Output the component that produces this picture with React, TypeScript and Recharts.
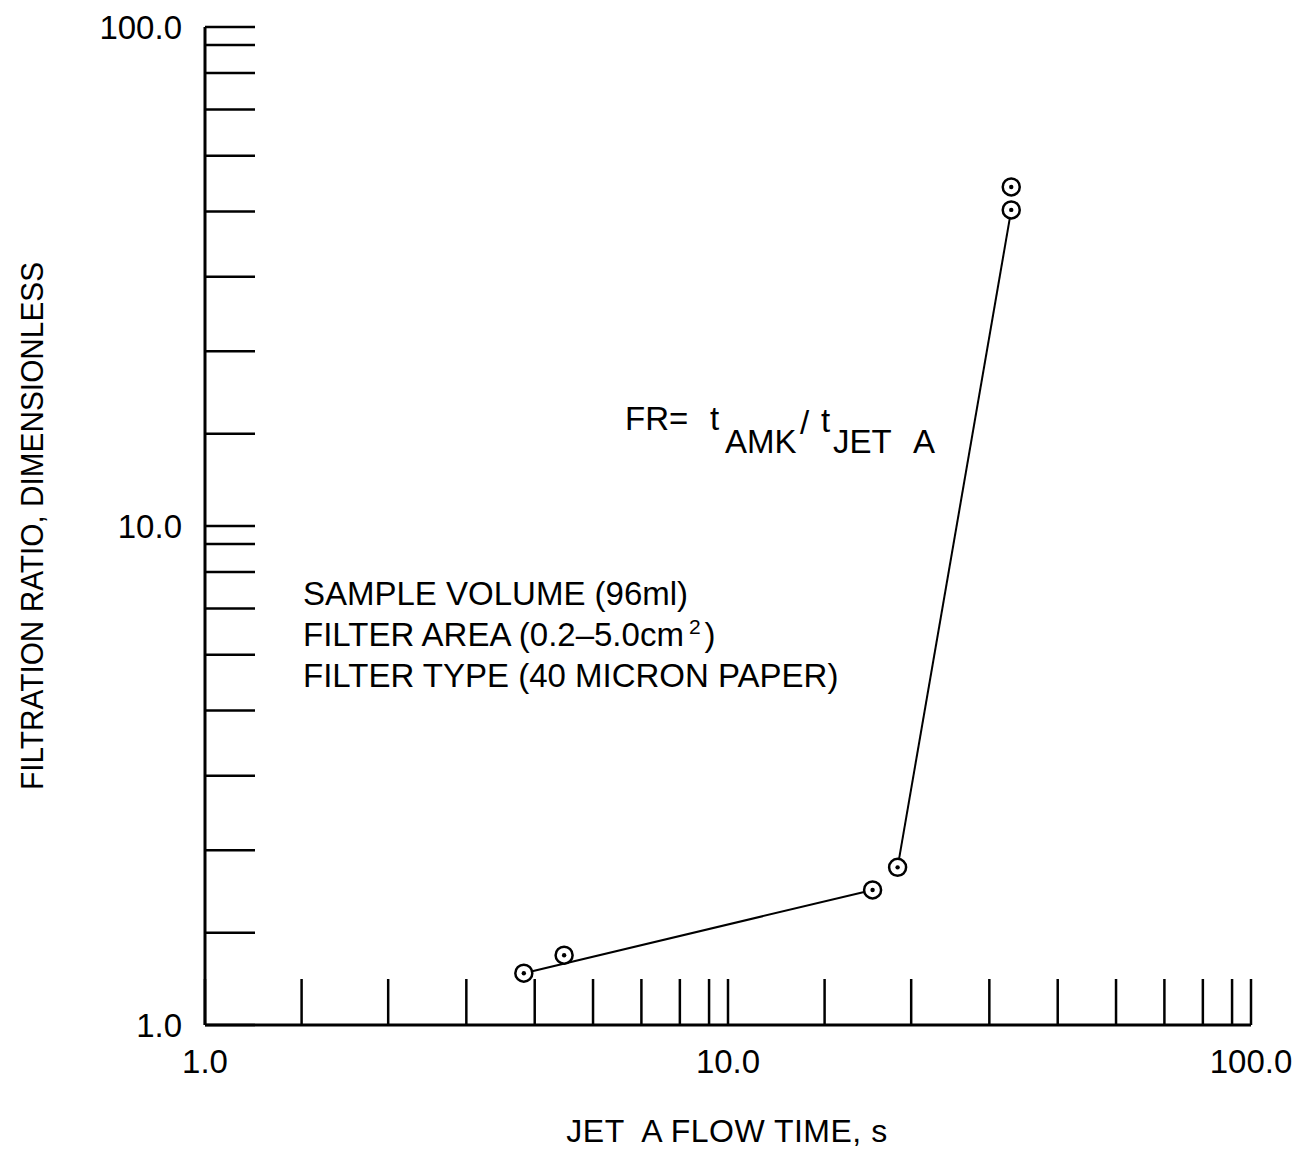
import { ScatterChart, Scatter, XAxis, YAxis } from 'recharts'

// measured points: jet A flow time (s) vs filtration ratio
const flowTime = [4.07, 4.86, 18.9, 21.1, 34.8, 34.8]
const filtrationRatio = [1.27, 1.38, 1.865, 2.07, 43.0, 47.8]

// fitted segments, by point index
const lowerFitIdx = [0, 2]
const upperFitIdx = [3, 4]

// plotter tick marks (same spacing in every decade)
const xTicks = [1, 1.53, 2.24, 3.16, 4.27, 5.52, 6.83, 8.09, 9.2, 10, 15.3, 22.4, 31.6, 42.7, 55.2, 68.3, 80.9, 92, 100]
const yTicks = [1, 1.53, 2.24, 3.16, 4.27, 5.52, 6.83, 8.09, 9.2, 10, 15.3, 22.4, 31.6, 42.7, 55.2, 68.3, 80.9, 92, 100]
const tickLabels: Record<number, string> = { 1: '1.0', 10: '10.0', 100: '100.0' }

const xTitle = 'JET  A FLOW TIME, s'
const yTitle = 'FILTRATION RATIO, DIMENSIONLESS'
const noteLines = ['SAMPLE VOLUME (96ml)', 'FILTER AREA (0.2\u20135.0cm', 'FILTER TYPE (40 MICRON PAPER)']

const points = flowTime.map((x, i) => ({ x, y: filtrationRatio[i] }))
const lowerFit = lowerFitIdx.map((i) => points[i])
const upperFit = upperFitIdx.map((i) => points[i])

const W = 1297
const H = 1140
const AXIS_W = 60
const AXIS_H = 60
const font = '"Liberation Sans", Arial, Helvetica, sans-serif'

// tick marks point into the plot; labels only on whole decades
function YTick(props: any) {
  const { x, y, payload } = props
  const label = tickLabels[payload.value]
  return (
    <g>
      <line x1={x} y1={y} x2={x + 50} y2={y} stroke="#000" strokeWidth={2.5} />
      {label && (
        <text x={x - 23} y={y + 12} textAnchor="end" fontSize={33} fontFamily={font} fill="#000">
          {label}
        </text>
      )}
    </g>
  )
}

function XTick(props: any) {
  const { x, y, payload } = props
  const label = tickLabels[payload.value]
  return (
    <g>
      <line x1={x} y1={y} x2={x} y2={y - 46} stroke="#000" strokeWidth={2.5} />
      {label && (
        <text x={x} y={y + 48} textAnchor="middle" fontSize={33} fontFamily={font} fill="#000">
          {label}
        </text>
      )}
    </g>
  )
}

function Ring(props: any) {
  const { cx, cy } = props
  return (
    <g>
      <circle cx={cx} cy={cy} r={8.5} fill="#fff" stroke="#000" strokeWidth={2.5} />
      <circle cx={cx} cy={cy} r={2.2} fill="#000" />
    </g>
  )
}

const NoShape = () => <g />

export default function App() {
  return (
    <div style={{ position: 'relative', width: W, height: H, background: '#fff' }}>
      <ScatterChart
        width={W}
        height={H}
        margin={{ top: 19, right: 54, bottom: 123 - AXIS_H, left: 197 - AXIS_W }}
      >
        <XAxis
          type="number"
          dataKey="x"
          scale="log"
          domain={[1, 100]}
          ticks={xTicks}
          interval={0}
          height={AXIS_H}
          tickSize={0}
          tickMargin={0}
          tickLine={false}
          axisLine={{ stroke: '#000', strokeWidth: 3 }}
          tick={<XTick />}
          allowDataOverflow
        />
        <YAxis
          type="number"
          dataKey="y"
          scale="log"
          domain={[1, 100]}
          ticks={yTicks}
          interval={0}
          width={AXIS_W}
          tickSize={0}
          tickMargin={0}
          tickLine={false}
          axisLine={{ stroke: '#000', strokeWidth: 3 }}
          tick={<YTick />}
          allowDataOverflow
        />
        <Scatter data={lowerFit} line={{ stroke: '#000', strokeWidth: 2 }} shape={NoShape} isAnimationActive={false} />
        <Scatter data={upperFit} line={{ stroke: '#000', strokeWidth: 2 }} shape={NoShape} isAnimationActive={false} />
        <Scatter data={points} shape={<Ring />} isAnimationActive={false} />
      </ScatterChart>

      <svg
        width={W}
        height={H}
        style={{ position: 'absolute', left: 0, top: 0, pointerEvents: 'none', overflow: 'visible' }}
        fontFamily={font}
        fill="#000"
      >
        <text x={719} y={1134} textAnchor="middle" fontSize={32} letterSpacing={0.5} style={{ whiteSpace: 'pre' }}>
          {xTitle}
        </text>
        <text
          x={24}
          y={518}
          transform="rotate(-90, 24, 518)"
          textAnchor="middle"
          dominantBaseline="central"
          fontSize={32}
          textLength={528}
          lengthAdjust="spacingAndGlyphs"
        >
          {yTitle}
        </text>

        <g fontSize={33}>
          <text x={295} y={597}>{noteLines[0]}</text>
          <text x={295} y={638}>
            {noteLines[1]}
            <tspan fontSize={21} dx={5} dy={-12}>2</tspan>
            <tspan dx={4} dy={12}>)</tspan>
          </text>
          <text x={295} y={679}>{noteLines[2]}</text>
        </g>

        <g fontSize={33}>
          <text x={617} y={422}>FR=</text>
          <text x={702} y={422}>t</text>
          <text x={717} y={445}>AMK</text>
          <text x={792} y={426}>/</text>
          <text x={813} y={424}>t</text>
          <text x={825} y={445}>JET</text>
          <text x={905} y={445}>A</text>
        </g>
      </svg>
    </div>
  )
}
